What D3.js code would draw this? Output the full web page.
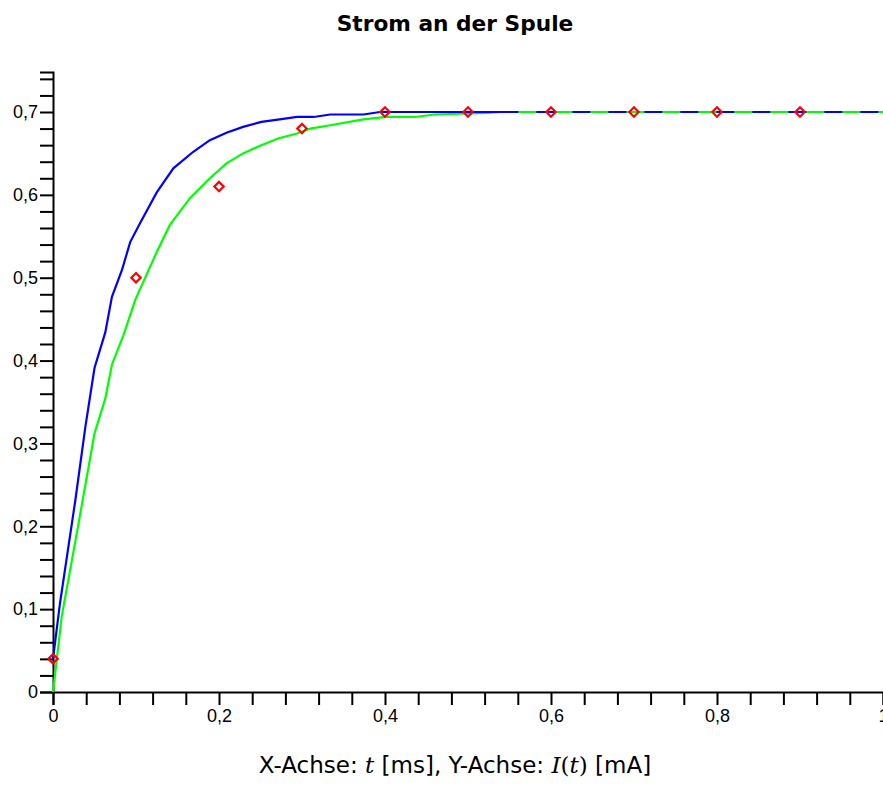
<!DOCTYPE html>
<html>
<head>
<meta charset="utf-8">
<script src="https://cdn.jsdelivr.net/npm/d3@7"></script>
<style>
  body { margin: 0; background: #fff; }
  svg { display: block; }
</style>
</head>
<body>
<div id="chart"></div>
<script>
// Messpunkte (rote Rauten)
const pointT = [0, 0.1, 0.2, 0.3, 0.4, 0.5, 0.6, 0.7, 0.8, 0.9];
const pointI = [0.04, 0.5, 0.61, 0.68, 0.7, 0.7, 0.7, 0.7, 0.7, 0.7];

// Blaue Kurve (Stützstellen)
const blueT = [0, 0.0084, 0.027, 0.039, 0.050, 0.063, 0.071, 0.083, 0.093, 0.105, 0.125, 0.145, 0.169,
  0.189, 0.209, 0.229, 0.251, 0.273, 0.294, 0.314, 0.334, 0.374, 0.394, 1];
const blueI = [0.04, 0.107, 0.232, 0.320, 0.391, 0.434, 0.477, 0.509, 0.543, 0.566, 0.603, 0.632, 0.652,
  0.666, 0.675, 0.682, 0.688, 0.691, 0.694, 0.694, 0.697, 0.697, 0.700, 0.700];

// Grüne Kurve
const greenT = [0, 0.0105, 0.030, 0.050, 0.063, 0.071, 0.085, 0.099, 0.125, 0.141, 0.165, 0.189, 0.209,
  0.229, 0.251, 0.271, 0.294, 0.310, 0.334, 0.374, 0.402, 0.436, 0.460, 0.523, 0.539, 1];
const greenI = [0, 0.091, 0.199, 0.312, 0.354, 0.395, 0.431, 0.473, 0.531, 0.564, 0.596, 0.620, 0.638,
  0.650, 0.660, 0.668, 0.674, 0.680, 0.684, 0.691, 0.694, 0.694, 0.697, 0.699, 0.700, 0.700];

// Achsen
const xMajor = [0, 0.2, 0.4, 0.6, 0.8, 1];
const xLabels = ["0", "0,2", "0,4", "0,6", "0,8", "1"];
const yMajor = [0, 0.1, 0.2, 0.3, 0.4, 0.5, 0.6, 0.7];
const yLabels = ["0", "0,1", "0,2", "0,3", "0,4", "0,5", "0,6", "0,7"];

const width = 883, height = 803;
const margin = { top: 72, left: 53, bottom: 111, right: 0 };

const svg = d3.select("#chart").append("svg")
  .attr("width", width)
  .attr("height", height);

const x = d3.scaleLinear().domain([0, 1]).range([margin.left, width - margin.right]);
const y = d3.scaleLinear().domain([0, 0.7]).range([692, 112]);
const yTop = y.invert(margin.top);

// Kleine Ticks
const xMinor = d3.range(0, 26).map(i => i * 0.04).filter(v => v <= 1.0001);
const yMinor = d3.range(0, 38).map(i => i * 0.02).filter(v => v <= yTop);

const xAxis = d3.axisBottom(x)
  .tickValues(xMinor)
  .tickSize(13)
  .tickSizeOuter(13)
  .tickFormat(d => {
    const k = xMajor.findIndex(m => Math.abs(m - d) < 1e-6);
    return k >= 0 ? xLabels[k] : "";
  });

const yScaleAxis = d3.scaleLinear().domain([0, yTop]).range([692, margin.top]);
const yAxis = d3.axisLeft(yScaleAxis)
  .tickValues(yMinor)
  .tickSize(13)
  .tickSizeOuter(13)
  .tickFormat(d => {
    const k = yMajor.findIndex(m => Math.abs(m - d) < 1e-6);
    return k >= 0 ? yLabels[k] : "";
  });

const gx = svg.append("g").attr("transform", `translate(0,692)`).call(xAxis);
const gy = svg.append("g").attr("transform", `translate(${margin.left},0)`).call(yAxis);

[gx, gy].forEach(g => {
  g.selectAll("path, line").attr("stroke", "#000").attr("stroke-width", 2);
  g.selectAll("text")
    .attr("fill", "#000")
    .attr("font-family", "'Liberation Sans', Arial, sans-serif")
    .attr("font-size", "18px");
});
gx.selectAll("text").attr("dy", "0.9em").attr("y", 14);
gy.selectAll("text").attr("x", -15);

// Kurven
const line = d3.line().x(d => x(d[0])).y(d => y(d[1]));
const greenPts = greenT.map((t, i) => [t, greenI[i]]);
const bluePts = blueT.map((t, i) => [t, blueI[i]]);

svg.append("path")
  .datum(greenPts)
  .attr("fill", "none")
  .attr("stroke", "#00ff00")
  .attr("stroke-width", 2.2)
  .attr("d", line);

svg.append("path")
  .datum(bluePts)
  .attr("fill", "none")
  .attr("stroke", "#0000ff")
  .attr("stroke-width", 2.2)
  .attr("d", line);

// wo beide Kurven zusammenfallen, wechseln sich die Segmente ab
svg.append("path")
  .datum(greenPts.filter(d => d[0] >= 0.539))
  .attr("fill", "none")
  .attr("stroke", "#00ff00")
  .attr("stroke-width", 2.2)
  .attr("stroke-dasharray", "18,18")
  .attr("stroke-dashoffset", 18)
  .attr("d", line);

// Messpunkte
svg.selectAll(".pt")
  .data(pointT.map((t, i) => [t, pointI[i]]))
  .enter()
  .append("path")
  .attr("class", "pt")
  .attr("transform", d => `translate(${x(d[0])},${y(d[1])}) rotate(45)`)
  .attr("d", d3.symbol(d3.symbolSquare, 44))
  .attr("fill", "none")
  .attr("stroke", "#ff0000")
  .attr("stroke-width", 2.2);

// Titel
svg.append("text")
  .attr("x", 455)
  .attr("y", 31)
  .attr("text-anchor", "middle")
  .attr("font-family", "'DejaVu Sans', sans-serif")
  .attr("font-weight", "bold")
  .attr("font-size", "21.7px")
  .attr("fill", "#000")
  .text("Strom an der Spule");

// Achsenbeschriftung
const lab = svg.append("text")
  .attr("x", 455)
  .attr("y", 773)
  .attr("text-anchor", "middle")
  .attr("font-family", "'DejaVu Sans', sans-serif")
  .attr("font-size", "23px")
  .attr("fill", "#000");
lab.append("tspan").text("X-Achse: ");
lab.append("tspan").attr("font-family", "'DejaVu Serif', serif").attr("font-style", "italic").text("t");
lab.append("tspan").text(" [ms], Y-Achse: ");
lab.append("tspan").attr("font-family", "'DejaVu Serif', serif").attr("font-style", "italic").text("I");
lab.append("tspan").attr("font-family", "'DejaVu Serif', serif").text("(");
lab.append("tspan").attr("font-family", "'DejaVu Serif', serif").attr("font-style", "italic").text("t");
lab.append("tspan").attr("font-family", "'DejaVu Serif', serif").text(")");
lab.append("tspan").text(" [mA]");
</script>
</body>
</html>
